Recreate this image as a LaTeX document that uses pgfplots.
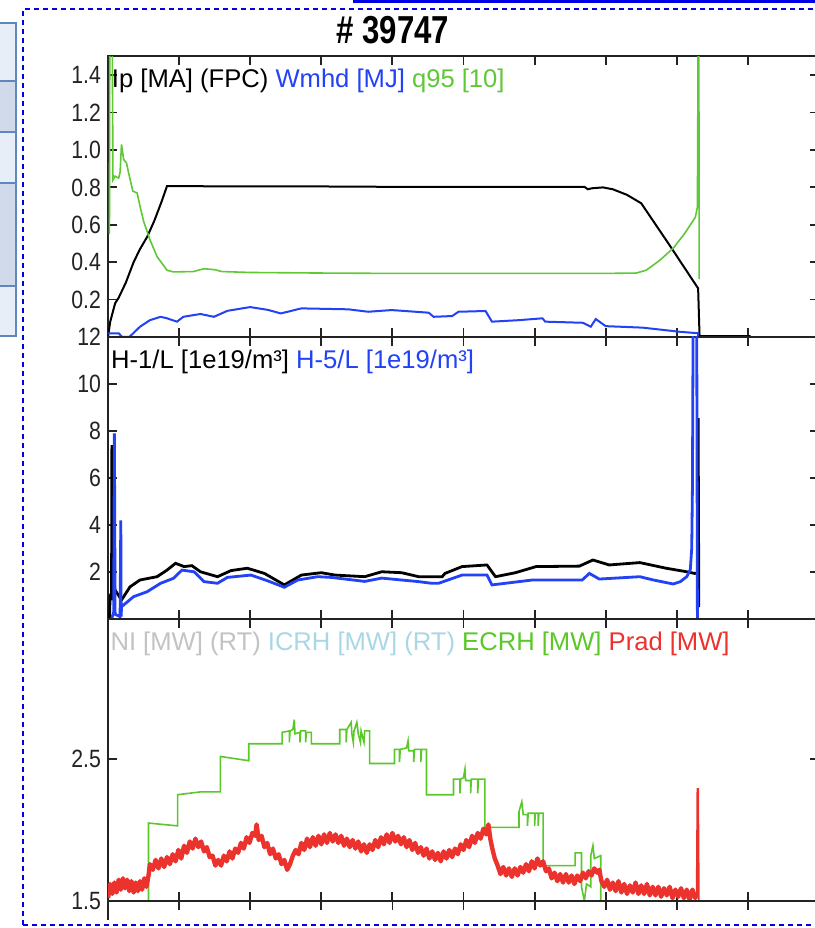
\documentclass[border=0pt]{standalone}
\usepackage{fontspec}
\setmainfont{Liberation Sans}
\newfontfamily\tickfont{Liberation Sans}[FakeStretch=0.85]
\newfontfamily\titlefont{Liberation Sans}[FakeStretch=0.8]
\usepackage{pgfplots}
\pgfplotsset{compat=1.18}
\definecolor{wblue}{RGB}{35,65,245}
\definecolor{qgreen}{RGB}{95,200,55}
\definecolor{ecrhgreen}{RGB}{90,200,40}
\definecolor{pradred}{RGB}{235,50,45}
\definecolor{nigray}{RGB}{195,195,195}
\definecolor{icrhblue}{RGB}{170,215,230}
\definecolor{framecol}{RGB}{0,0,230}
\definecolor{boxedge}{RGB}{95,135,190}
\definecolor{boxlight}{RGB}{232,238,247}
\definecolor{boxdark}{RGB}{208,218,234}
\definecolor{axcol}{RGB}{35,35,35}
\pgfplotsset{
  panel/.style={
    scale only axis, width=355.5pt, anchor=south west,
    xmin=0, xmax=10, xtick={1,...,9}, xticklabels={},
    tick align=inside, major tick length=4.5pt,
    axis line style={line width=1pt, axcol},
    tick style={line width=0.9pt, axcol},
    yticklabel style={font=\tickfont\fontsize{12.5}{12.5}\selectfont, text=axcol},
  },
}
\tikzset{leg/.style={anchor=base west, inner sep=0pt, font=\fontsize{12.8}{12.8}\selectfont}}
\begin{document}
\begin{tikzpicture}
\useasboundingbox (0,0) rectangle (407.5pt,464pt);
\fill[white] (0,0) rectangle (407.5pt,464pt);
% side widget
\filldraw[fill=boxlight, draw=boxedge, line width=1pt] (-2pt,423.5pt) rectangle (8pt,452.5pt);
\filldraw[fill=boxdark, draw=boxedge, line width=1pt] (-2pt,398pt) rectangle (8pt,423.5pt);
\filldraw[fill=boxlight, draw=boxedge, line width=1pt] (-2pt,372.5pt) rectangle (8pt,398pt);
\filldraw[fill=boxdark, draw=boxedge, line width=1pt] (-2pt,321pt) rectangle (8pt,372.5pt);
\filldraw[fill=boxlight, draw=boxedge, line width=1pt] (-2pt,296pt) rectangle (8pt,321pt);
% frame
\draw[framecol, line width=1.3pt, dash pattern=on 2.5pt off 2pt] (11.5pt,1.5pt) rectangle (412pt,459.5pt);
\fill[framecol] (176.5pt,462.3pt) rectangle (410pt,465pt);
\node[font=\titlefont\bfseries\fontsize{19.5}{20}\selectfont] at (196.5pt,449pt) {\# 39747};

% panel 1
\begin{axis}[panel, at={(54pt,295.5pt)}, height=140.25pt,
  ymin=0, ymax=1.5, ytick={0.2,0.4,0.6,0.8,1.0,1.2,1.4},
  yticklabels={0.2,0.4,0.6,0.8,1.0,1.2,1.4}]
\addplot[black, line width=1pt] coordinates {(0,0) (0.03,0.08) (0.1,0.18) (0.15,0.21) (0.25,0.29) (0.36,0.4) (0.45,0.47) (0.55,0.535) (0.65,0.62) (0.75,0.72) (0.83,0.807) (2,0.805) (3,0.805) (4,0.803) (5,0.803) (6,0.803) (6.7,0.803) (6.75,0.79) (6.8,0.795) (6.96,0.8) (7.1,0.79) (7.3,0.76) (7.5,0.715) (7.9,0.49) (8.3,0.26) (8.32,0.005) (9.04,0.005)};
\addplot[wblue, line width=1pt] coordinates {(0,0.02) (0.15,0.02) (0.2,0.0) (0.3,0.0) (0.45,0.055) (0.59,0.09) (0.74,0.108) (0.83,0.1) (0.97,0.082) (1.06,0.108) (1.3,0.123) (1.49,0.108) (1.68,0.14) (2.0,0.16) (2.25,0.145) (2.43,0.126) (2.72,0.153) (3.38,0.148) (3.66,0.135) (3.99,0.144) (4.51,0.13) (4.58,0.108) (4.84,0.112) (4.93,0.135) (5.31,0.139) (5.40,0.082) (5.78,0.09) (6.11,0.1) (6.15,0.082) (6.68,0.076) (6.79,0.055) (6.86,0.096) (7.0,0.058) (7.52,0.05) (8.04,0.028) (8.30,0.02) (8.31,-0.1)};
\addplot[qgreen, line width=0.8pt] coordinates {(0.02,0.55) (0.025,1.6) (0.06,1.6) (0.07,0.84) (0.1,0.86) (0.15,0.85) (0.17,0.88) (0.19,1.03) (0.22,0.95) (0.26,0.93) (0.3,0.86) (0.35,0.78) (0.41,0.77) (0.45,0.7) (0.5,0.62) (0.59,0.52) (0.69,0.43) (0.83,0.357) (0.92,0.348) (1.2,0.35) (1.35,0.365) (1.5,0.36) (1.6,0.35) (2.0,0.345) (3,0.342) (4,0.34) (5,0.34) (6,0.34) (7,0.34) (7.43,0.342) (7.57,0.357) (7.76,0.41) (7.95,0.475) (8.11,0.553) (8.26,0.64) (8.29,0.695) (8.30,1.6) (8.31,1.6) (8.315,0.31)};
\node[leg] at (rel axis cs:0.005,0.89) {Ip [MA] (FPC) \textcolor{wblue}{Wmhd [MJ]} \textcolor{qgreen}{q95 [10]}};
\end{axis}

% panel 2
\begin{axis}[panel, at={(54pt,154.5pt)}, height=141pt,
  ymin=0, ymax=12, ytick={2,4,6,8,10,12}, yticklabels={2,4,6,8,10,12}]
\addplot[black, line width=1.4pt] coordinates {(0.02,0) (0.03,1.0) (0.05,1.1) (0.055,7.4) (0.065,0.8) (0.09,1.4) (0.1,1.23) (0.19,0.81) (0.31,1.37) (0.45,1.66) (0.69,1.8) (0.83,2.08) (0.95,2.37) (1.07,2.23) (1.18,2.27) (1.30,2.01) (1.54,1.8) (1.73,2.06) (1.96,2.16) (2.20,1.94) (2.48,1.45) (2.72,1.87) (3.0,1.97) (3.19,1.87) (3.61,1.8) (3.85,2.01) (4.13,1.97) (4.37,1.8) (4.70,1.8) (4.74,1.94) (4.98,2.23) (5.33,2.3) (5.45,1.8) (5.73,1.97) (6.02,2.23) (6.63,2.25) (6.82,2.51) (7.05,2.3) (7.48,2.4) (7.85,2.16) (8.14,2.01) (8.25,1.94) (8.29,1.95) (8.30,8.55) (8.31,0.5)};
\addplot[wblue, line width=1.4pt] coordinates {(0.05,0) (0.08,0.3) (0.09,7.9) (0.1,0.2) (0.17,0.1) (0.18,4.2) (0.185,0.1) (0.19,0.52) (0.36,0.95) (0.55,1.16) (0.74,1.52) (0.92,1.73) (1.04,2.08) (1.21,2.01) (1.35,1.59) (1.54,1.52) (1.68,1.77) (2.01,1.87) (2.24,1.63) (2.48,1.35) (2.67,1.66) (2.95,1.8) (3.14,1.77) (3.61,1.6) (3.85,1.74) (4.37,1.59) (4.55,1.52) (4.65,1.52) (4.98,1.87) (5.33,1.87) (5.40,1.45) (5.97,1.66) (6.67,1.66) (6.77,1.94) (6.91,1.7) (7.48,1.8) (7.67,1.66) (7.95,1.49) (8.05,1.59) (8.14,1.8) (8.19,2.1) (8.21,3.0) (8.22,5.6) (8.23,13) (8.28,13) (8.29,0)};
\node[leg] at (rel axis cs:0.004,0.887) {H-1/L [1e19/m³] \textcolor{wblue}{H-5/L [1e19/m³]}};
\end{axis}

% panel 3
\begin{axis}[panel, at={(54pt,13.5pt)}, height=141pt,
  ymin=1.5, ymax=3.49, ytick={1.5,2.5}, yticklabels={1.5,2.5}]
\addplot[ecrhgreen, line width=0.8pt] coordinates {(0,1.5) (0.57,1.5) (0.57,2.05) (0.98,2.03) (0.98,2.25) (1.3,2.27) (1.58,2.27) (1.58,2.52) (1.98,2.49) (1.98,2.61) (2.45,2.61) (2.45,2.69) (2.55,2.7) (2.55,2.62) (2.56,2.7) (2.6,2.71) (2.62,2.78) (2.63,2.68) (2.7,2.69) (2.7,2.62) (2.71,2.7) (2.78,2.7) (2.78,2.62) (2.79,2.69) (2.86,2.69) (2.86,2.61) (3.26,2.61) (3.26,2.71) (3.35,2.71) (3.35,2.62) (3.36,2.71) (3.42,2.76) (3.43,2.68) (3.45,2.62) (3.46,2.7) (3.5,2.76) (3.52,2.68) (3.55,2.62) (3.56,2.7) (3.6,2.62) (3.61,2.7) (3.68,2.7) (3.68,2.47) (4.03,2.47) (4.03,2.57) (4.1,2.57) (4.1,2.48) (4.11,2.57) (4.2,2.58) (4.22,2.63) (4.23,2.56) (4.3,2.56) (4.3,2.48) (4.31,2.57) (4.4,2.57) (4.4,2.48) (4.41,2.57) (4.48,2.57) (4.48,2.25) (4.86,2.25) (4.86,2.36) (4.95,2.36) (4.95,2.26) (4.96,2.36) (5.0,2.37) (5.02,2.43) (5.03,2.35) (5.1,2.35) (5.1,2.26) (5.11,2.36) (5.2,2.36) (5.2,2.26) (5.21,2.36) (5.30,2.36) (5.30,2.02) (5.78,2.02) (5.78,2.13) (5.82,2.2) (5.84,2.11) (5.9,2.11) (5.9,2.03) (5.91,2.12) (6.0,2.12) (6.0,2.03) (6.01,2.12) (6.05,2.12) (6.05,2.03) (6.06,2.12) (6.12,2.12) (6.12,1.75) (6.57,1.75) (6.57,1.84) (6.66,1.84) (6.66,1.6) (6.7,1.5) (6.73,1.62) (6.79,1.6) (6.79,1.82) (6.82,1.89) (6.84,1.8) (6.93,1.82) (6.93,1.5) (10,1.5)};
\addplot[pradred, line width=2.2pt, line join=round] coordinates {(0.00,1.52) (0.03,1.62) (0.06,1.55) (0.09,1.63) (0.12,1.56) (0.15,1.65) (0.18,1.58) (0.21,1.66) (0.24,1.59) (0.27,1.65) (0.30,1.57) (0.33,1.64) (0.36,1.56) (0.39,1.63) (0.42,1.57) (0.45,1.64) (0.48,1.58) (0.51,1.66) (0.54,1.60) (0.57,1.68) (0.59,1.76) (0.63,1.72) (0.67,1.79) (0.71,1.73) (0.75,1.80) (0.79,1.74) (0.83,1.81) (0.87,1.76) (0.91,1.83) (0.95,1.78) (0.99,1.86) (1.03,1.80) (1.07,1.89) (1.11,1.84) (1.15,1.92) (1.19,1.87) (1.23,1.94) (1.27,1.88) (1.31,1.92) (1.35,1.85) (1.39,1.88) (1.43,1.81) (1.47,1.82) (1.51,1.75) (1.55,1.79) (1.59,1.75) (1.63,1.82) (1.67,1.78) (1.71,1.85) (1.75,1.80) (1.79,1.87) (1.83,1.84) (1.87,1.91) (1.91,1.87) (1.95,1.95) (1.99,1.91) (2.03,1.98) (2.07,1.96) (2.09,2.04) (2.12,1.93) (2.16,1.96) (2.20,1.88) (2.24,1.91) (2.28,1.83) (2.32,1.87) (2.36,1.80) (2.40,1.83) (2.44,1.76) (2.48,1.79) (2.52,1.72) (2.56,1.76) (2.60,1.82) (2.64,1.86) (2.68,1.83) (2.72,1.91) (2.76,1.86) (2.80,1.94) (2.84,1.88) (2.88,1.95) (2.92,1.89) (2.96,1.96) (3.00,1.90) (3.04,1.97) (3.08,1.91) (3.12,1.98) (3.16,1.92) (3.20,1.97) (3.24,1.91) (3.28,1.96) (3.32,1.89) (3.36,1.94) (3.40,1.88) (3.44,1.93) (3.48,1.87) (3.52,1.92) (3.56,1.85) (3.60,1.90) (3.64,1.84) (3.68,1.90) (3.72,1.86) (3.76,1.93) (3.80,1.88) (3.84,1.95) (3.88,1.90) (3.92,1.97) (3.96,1.91) (4.00,1.98) (4.04,1.92) (4.08,1.96) (4.12,1.90) (4.16,1.95) (4.20,1.88) (4.24,1.93) (4.28,1.86) (4.32,1.91) (4.36,1.84) (4.40,1.88) (4.44,1.82) (4.48,1.87) (4.52,1.80) (4.56,1.85) (4.60,1.79) (4.64,1.84) (4.68,1.78) (4.72,1.85) (4.76,1.80) (4.80,1.86) (4.84,1.81) (4.88,1.87) (4.92,1.83) (4.96,1.90) (5.00,1.86) (5.04,1.93) (5.08,1.88) (5.12,1.96) (5.16,1.91) (5.20,1.98) (5.24,1.94) (5.28,2.01) (5.32,1.97) (5.35,2.04) (5.38,1.93) (5.41,1.86) (5.44,1.80) (5.48,1.75) (5.52,1.69) (5.56,1.74) (5.60,1.68) (5.64,1.73) (5.68,1.67) (5.72,1.73) (5.76,1.68) (5.80,1.74) (5.84,1.70) (5.88,1.76) (5.92,1.71) (5.96,1.78) (6.00,1.73) (6.04,1.80) (6.08,1.75) (6.12,1.78) (6.16,1.71) (6.20,1.73) (6.24,1.66) (6.28,1.70) (6.32,1.64) (6.36,1.69) (6.40,1.63) (6.44,1.69) (6.48,1.63) (6.52,1.68) (6.56,1.62) (6.60,1.68) (6.64,1.64) (6.68,1.70) (6.72,1.66) (6.76,1.71) (6.80,1.68) (6.84,1.73) (6.88,1.70) (6.91,1.72) (6.94,1.64) (6.98,1.60) (7.02,1.65) (7.06,1.58) (7.10,1.63) (7.14,1.57) (7.18,1.64) (7.22,1.56) (7.26,1.62) (7.30,1.55) (7.34,1.61) (7.38,1.56) (7.42,1.63) (7.46,1.55) (7.50,1.61) (7.54,1.55) (7.58,1.62) (7.62,1.54) (7.66,1.60) (7.70,1.54) (7.74,1.60) (7.78,1.53) (7.82,1.59) (7.86,1.54) (7.90,1.60) (7.94,1.52) (7.98,1.58) (8.02,1.53) (8.06,1.59) (8.10,1.52) (8.14,1.58) (8.18,1.51) (8.22,1.58) (8.26,1.52) (8.28,1.56)};
\addplot[pradred, line width=0.9pt] coordinates {(8.28,1.53) (8.29,2.29) (8.30,2.29) (8.31,1.5)};
\node[leg] at (rel axis cs:0.003,0.89) {\textcolor{nigray}{NI [MW] (RT)} \textcolor{icrhblue}{ICRH [MW] (RT)} \textcolor{ecrhgreen}{ECRH [MW]} \textcolor{pradred}{Prad [MW]}};
\end{axis}
% outward ticks under the bottom panel
\begin{axis}[scale only axis, width=355.5pt, height=141pt, anchor=south west, at={(54pt,13.5pt)},
  xmin=0, xmax=10, ymin=0, ymax=1, axis x line*=bottom, axis y line=none,
  xtick={1,...,9}, xticklabels={}, tick align=outside, major tick length=4.5pt,
  axis line style={line width=1pt, axcol, -}, tick style={line width=0.9pt, axcol}]
\end{axis}
\draw[line width=1pt, axcol] (54pt,13.5pt) -- (54pt,4pt);
\end{tikzpicture}
\end{document}
